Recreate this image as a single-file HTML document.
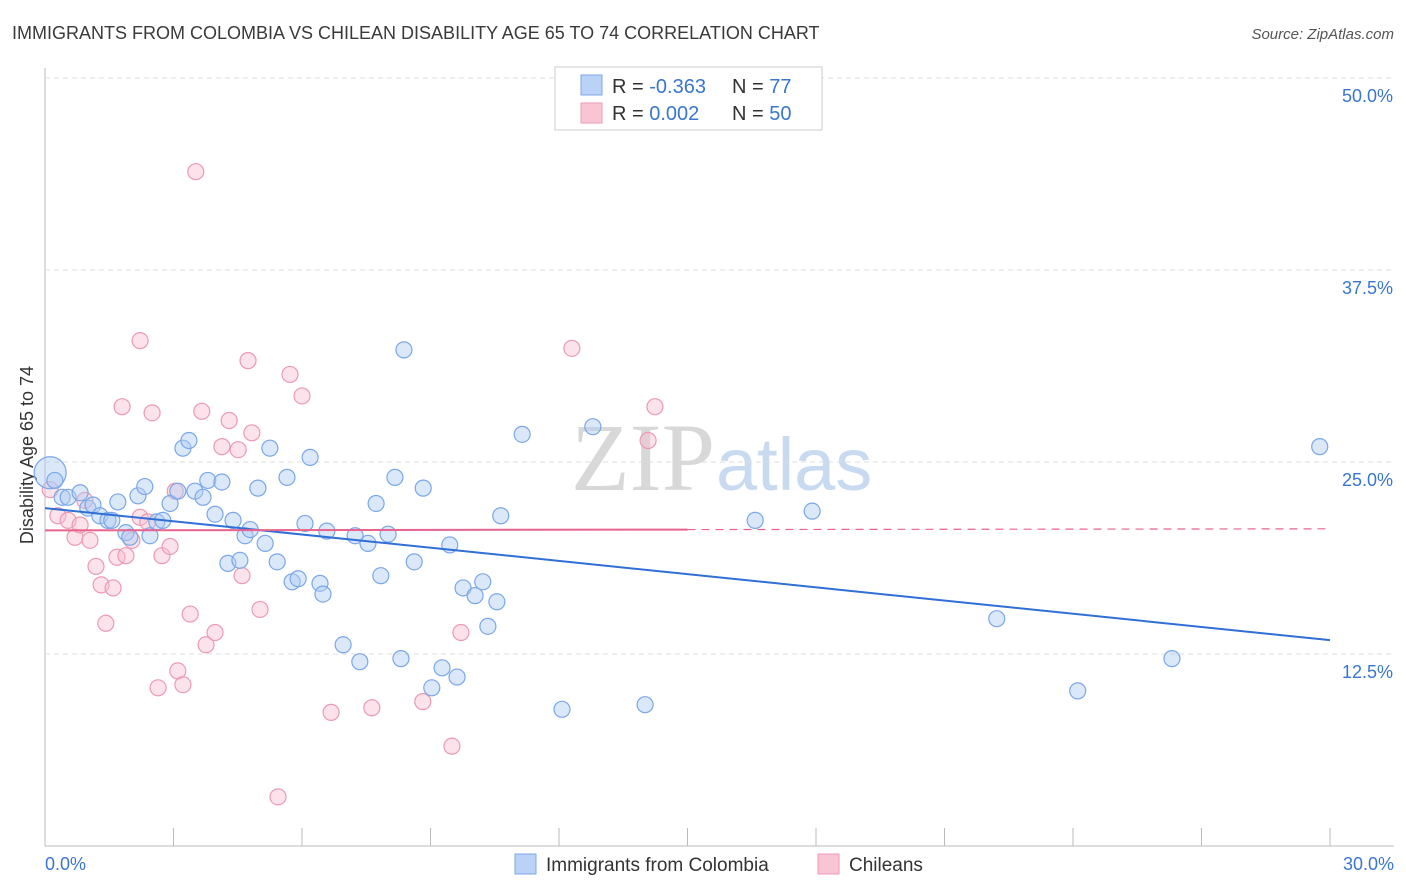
<!DOCTYPE html>
<html><head><meta charset="utf-8"><style>
body{margin:0;background:#fff;font-family:"Liberation Sans",sans-serif;}
svg{display:block}
</style></head><body>
<svg id="c" width="1406" height="892" xmlns="http://www.w3.org/2000/svg">
<text x="12" y="39" font-size="18" fill="#3a3a3a">IMMIGRANTS FROM COLOMBIA VS CHILEAN DISABILITY AGE 65 TO 74 CORRELATION CHART</text>
<text x="1394" y="39" font-size="15" fill="#555" font-style="italic" text-anchor="end">Source: ZipAtlas.com</text>
<text x="715" y="490" font-size="96" fill="#d8d8d8" text-anchor="end" font-family="Liberation Serif">ZIP</text>
<text x="716" y="490" font-size="74" fill="#c8daf0">atlas</text>
<text transform="translate(33,455) rotate(-90)" font-size="18" fill="#333" text-anchor="middle">Disability Age 65 to 74</text>
<g id="grid"></g><g id="marks"></g>
<g>
<rect x="555" y="67" width="267" height="63" fill="#fff" stroke="#ccc"/>
<rect x="581" y="75" width="21" height="20" fill="#b9d2f5" stroke="#7aa7e8"/>
<rect x="581" y="103" width="21" height="20" fill="#f9c5d4" stroke="#ee9ab3"/>
<text x="612" y="93" font-size="20" fill="#333">R = <tspan fill="#3a76d0">-0.363</tspan></text>
<text x="732" y="93" font-size="20" fill="#333">N = <tspan fill="#3a76d0"> 77</tspan></text>
<text x="612" y="120" font-size="20" fill="#333">R = <tspan fill="#3a76d0"> 0.002</tspan></text>
<text x="732" y="120" font-size="20" fill="#333">N = <tspan fill="#3a76d0">50</tspan></text>
</g>
<g>
<rect x="515" y="854" width="21" height="20" fill="#b9d2f5" stroke="#7aa7e8"/>
<text x="546" y="871" font-size="19" fill="#333">Immigrants from Colombia</text>
<rect x="818" y="854" width="21" height="20" fill="#f9c5d4" stroke="#ee9ab3"/>
<text x="849" y="871" font-size="19" fill="#333">Chileans</text>
</g>
</svg>
<script>
const xTicks=[0,3,6,9,12,15,18,21,24,27,30];
const yTicks=[12.5,25,37.5,50];
const yTickLabels=["12.5%","25.0%","37.5%","50.0%"];
const blueX=[0.12,0.23,0.40,0.54,0.82,1.00,1.12,1.28,1.47,1.56,1.70,1.89,1.98,2.17,2.33,2.45,2.61,2.75,2.92,3.10,3.22,3.36,3.50,3.69,3.80,3.97,4.13,4.27,4.39,4.55,4.67,4.79,4.97,5.14,5.25,5.42,5.65,5.77,5.91,6.07,6.19,6.42,6.49,6.58,6.96,7.24,7.35,7.54,7.73,7.84,8.01,8.17,8.31,8.38,8.62,8.83,9.03,9.27,9.45,9.62,9.76,10.04,10.22,10.34,10.55,10.64,11.14,12.07,12.79,14.01,16.58,17.91,22.22,24.11,26.31,29.76];
const blueY=[24.3,23.8,22.7,22.7,23.0,22.0,22.2,21.5,21.2,21.2,22.4,20.4,20.1,22.8,23.4,20.2,21.1,21.2,22.3,23.1,25.9,26.4,23.1,22.7,23.8,21.6,23.7,18.4,21.2,18.6,20.2,20.6,23.3,19.7,25.9,18.5,24.0,17.2,17.4,21.0,25.3,17.1,16.4,20.5,13.1,20.2,12.0,19.7,22.3,17.6,20.3,24.0,12.2,32.3,18.5,23.3,10.3,11.6,19.6,11.0,16.8,16.3,17.2,14.3,15.9,21.5,26.8,8.9,27.3,9.2,21.2,21.8,14.8,10.1,12.2,26.0];
const pinkX=[0.12,0.30,0.54,0.70,0.82,0.93,1.05,1.19,1.31,1.42,1.59,1.68,1.80,1.89,2.03,2.22,2.22,2.40,2.50,2.64,2.73,2.92,3.04,3.10,3.22,3.39,3.52,3.66,3.76,3.97,4.13,4.30,4.51,4.60,4.74,4.83,5.02,5.44,5.72,6.00,6.68,7.63,8.82,9.50,9.71,12.30,14.08,14.24];
const pinkY=[23.2,21.5,21.2,20.1,20.9,22.5,19.9,18.2,17.0,14.5,16.8,18.8,28.6,18.9,19.9,32.9,21.4,21.1,28.2,10.3,18.9,19.5,23.1,11.4,10.5,15.1,43.9,28.3,13.1,13.9,26.0,27.7,25.8,17.6,31.6,26.9,15.4,3.2,30.7,29.3,8.7,9.0,9.4,6.5,13.9,32.4,26.4,28.6];
const W0=45,W1=1330,H0=846,H1=78;
const sx=v=>W0+(W1-W0)*v/30, sy=v=>H0-(H0-H1)*v/50;
const NS="http://www.w3.org/2000/svg";
function mk(t,a,p){const e=document.createElementNS(NS,t);for(const k in a)e.setAttribute(k,a[k]);p.appendChild(e);return e;}
const g=document.getElementById('grid'),m=document.getElementById('marks');
let ax=mk('line',{x1:W0,y1:68,x2:W0,y2:H0,stroke:'#bbb'},g);


let bx=mk('line',{x1:W0,y1:H0,x2:1394,y2:H0,stroke:'#bbb'},g);


yTicks.forEach((v,i)=>{
 const l=mk('line',{x1:W0,y1:sy(v),x2:1394,y2:sy(v),stroke:'#ddd','stroke-dasharray':'5,4'},g);
 
 
 const t=mk('text',{x:1393,y:sy(v)+24,'font-size':18,fill:'#3a76d0','text-anchor':'end'},g);t.textContent=yTickLabels[i];
 
 
});
xTicks.forEach(v=>{
 const l=mk('line',{x1:sx(v),y1:H0,x2:sx(v),y2:828,stroke:'#bbb'},g);
 
 
});
[[0,"0.0%",'start',45],[30,"30.0%",'end',1394]].forEach(([v,s,a,x])=>{
 const t=mk('text',{x:x,y:870,'font-size':18,fill:'#3a76d0','text-anchor':a},g);t.textContent=s;
 
 
});
pinkX.forEach((x,i)=>{
 const c=mk('circle',{cx:sx(x),cy:sy(pinkY[i]),r:8,fill:'rgba(249,190,208,0.45)',stroke:'#ec9ab3','stroke-width':1.2},m);
 
 
});
blueX.forEach((x,i)=>{
 const c=mk('circle',{cx:sx(x),cy:sy(blueY[i]),r:i==0?16:8,fill:'rgba(175,205,245,0.45)',stroke:'#7aa7e8','stroke-width':1.2},m);
 
 
});
const bt=mk('line',{x1:sx(0),y1:sy(22.0),x2:sx(30),y2:sy(13.4),stroke:'#2f6fd6','stroke-width':2},m);


const pt=mk('line',{x1:sx(0),y1:sy(20.55),x2:sx(15),y2:sy(20.6),stroke:'#e8638e','stroke-width':2},m);


const pd=mk('line',{x1:sx(15),y1:sy(20.6),x2:sx(30),y2:sy(20.65),stroke:'#e8638e','stroke-width':1.2,'stroke-dasharray':'8,6'},m);


</script>
</body></html>
